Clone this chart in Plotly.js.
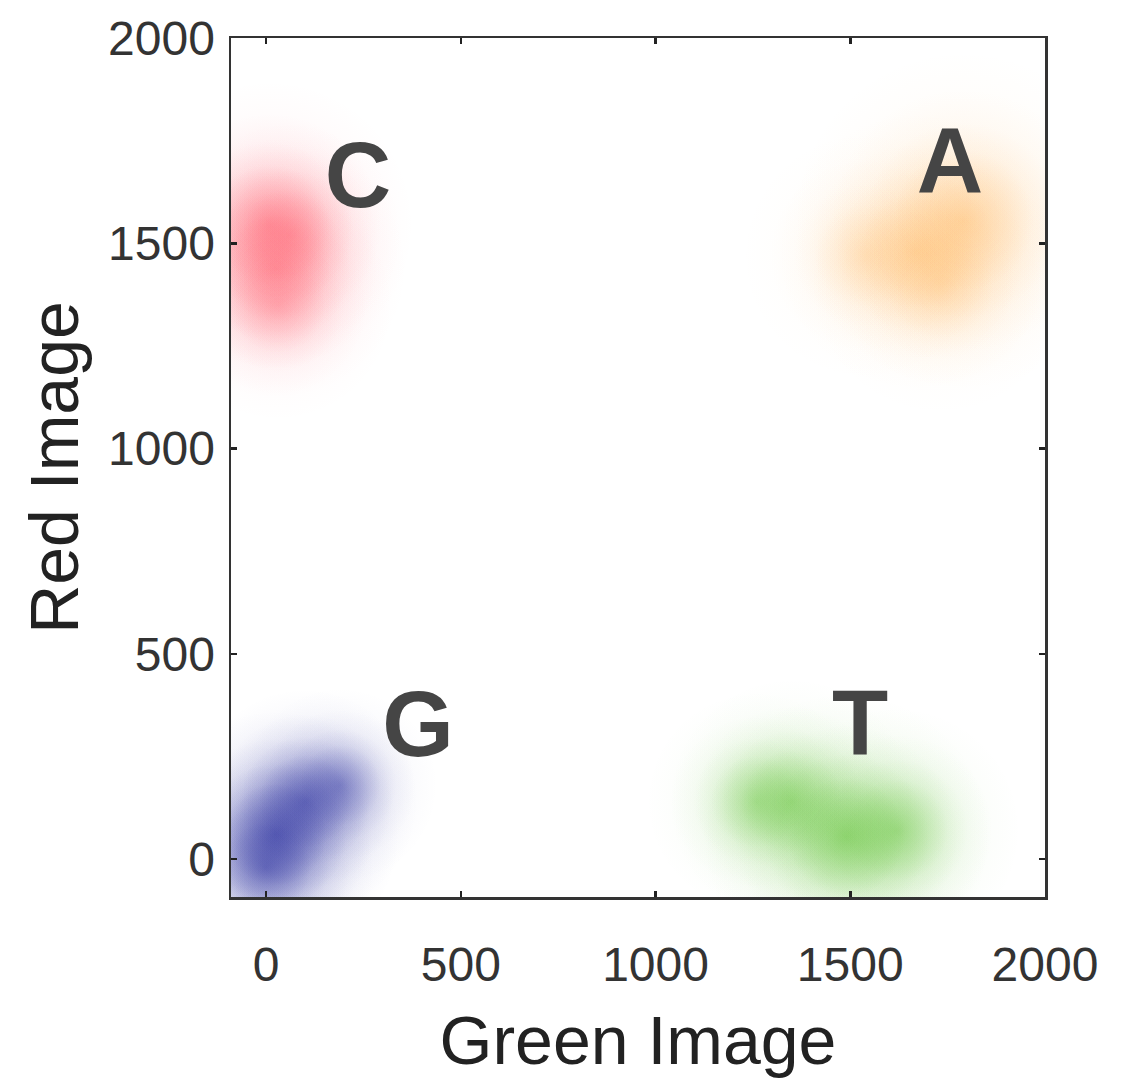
<!DOCTYPE html>
<html>
<head>
<meta charset="utf-8">
<script src="https://cdn.plot.ly/plotly-3.0.1.min.js"></script>
<style>html,body{margin:0;padding:0;background:#fff;}#chart{width:1132px;height:1078px;}</style>
</head>
<body>
<div id="chart"></div>
<script>
// ---- data ----
const clusterNames = ['C', 'A', 'G', 'T'];
const labelX = [236, 1756, 390, 1525];
const labelY = [1645, 1682, 308, 310];

// density cores of each cluster (Green Image, Red Image) and relative intensity
const cX = [10, 25, 60, 30];
const cY = [1545, 1440, 1520, 1350];
const cW = [1.0, 0.75, 0.4, 0.45];

const aX = [1790, 1670, 1730, 1540];
const aY = [1555, 1480, 1400, 1470];
const aW = [1.0, 0.5, 0.35, 0.25];

const gX = [25, 100, 190, 0];
const gY = [60, 140, 180, -20];
const gW = [1.0, 0.75, 0.4, 0.65];

const tX = [1490, 1350, 1620, 1260];
const tY = [55, 140, 70, 140];
const tW = [1.0, 0.6, 0.6, 0.35];

const xTicks = [0, 500, 1000, 1500, 2000];
const yTicks = [0, 500, 1000, 1500, 2000];

// ---- styles ----
const layerSizes = [400, 310, 230, 165];
const clusterStyles = {
  C: {rgb: [255, 95, 110], alpha: [0.09, 0.14, 0.2, 0.26], scale: 0.72},
  A: {rgb: [255, 178, 85], alpha: [0.08, 0.13, 0.19, 0.25], scale: 0.85},
  G: {rgb: [45, 50, 160], alpha: [0.12, 0.19, 0.28, 0.36], scale: 0.62},
  T: {rgb: [90, 192, 45], alpha: [0.1, 0.16, 0.24, 0.3], scale: 0.72}
};

function rgba(c, a) { return 'rgba(' + c[0] + ',' + c[1] + ',' + c[2] + ',' + a + ')'; }

function blobTraces(name, xs, ys, ws) {
  const st = clusterStyles[name];
  return layerSizes.map(function (size, i) {
    const alpha = st.alpha[i];
    return {
      type: 'scatter', mode: 'markers', x: xs, y: ys,
      hoverinfo: 'skip', showlegend: false, cliponaxis: true,
      marker: {
        size: ws.map(function (w) { return size * st.scale * (0.65 + 0.35 * w); }),
        color: rgba(st.rgb, 0),
        opacity: 1,
        line: {width: 0},
        gradient: {type: 'radial', color: ws.map(function (w) { return rgba(st.rgb, +(alpha * (0.35 + 0.65 * w)).toFixed(3)); })}
      }
    };
  });
}

const traces = []
  .concat(blobTraces('C', cX, cY, cW))
  .concat(blobTraces('A', aX, aY, aW))
  .concat(blobTraces('G', gX, gY, gW))
  .concat(blobTraces('T', tX, tY, tW));

traces.push({
  type: 'scatter', mode: 'text', x: labelX, y: labelY, text: clusterNames,
  textposition: 'middle center', hoverinfo: 'skip', showlegend: false, cliponaxis: false,
  textfont: {family: 'Liberation Sans, Arial, sans-serif', size: 92, color: '#454545', weight: 700}
});

const axisCommon = {
  showgrid: false, zeroline: false, showline: true, linecolor: '#333', linewidth: 2.5,
  mirror: 'ticks', ticks: 'inside', ticklen: 6, tickwidth: 2.5, tickcolor: '#222',
  tickfont: {family: 'Liberation Sans, Arial, sans-serif', size: 48, color: '#333'}
};

const layout = {
  width: 1132, height: 1078,
  paper_bgcolor: '#fff', plot_bgcolor: '#fff',
  margin: {l: 231, r: 87, t: 38, b: 181},
  xaxis: Object.assign({}, axisCommon, {
    range: [-90, 2000], tickvals: xTicks, ticktext: xTicks.map(String),
    ticklabelstandoff: 24,
    title: {text: 'Green Image', standoff: 36, font: {family: 'Liberation Sans, Arial, sans-serif', size: 68, color: '#222'}}
  }),
  yaxis: Object.assign({}, axisCommon, {
    range: [-92, 2000], tickvals: yTicks, ticktext: yTicks.map(String),
    ticklabelstandoff: 4,
    title: {text: 'Red Image', standoff: 8, font: {family: 'Liberation Sans, Arial, sans-serif', size: 68, color: '#222'}}
  })
};

Plotly.newPlot('chart', traces, layout, {displayModeBar: false, staticPlot: true});
</script>
</body>
</html>
